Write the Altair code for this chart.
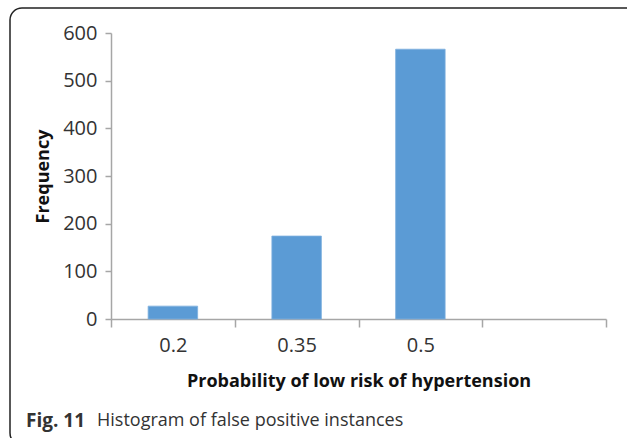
import altair as alt
import pandas as pd

categories = ["0.2", "0.35", "0.5", " "]
frequencies = [27, 174, 566, None]
caption_bold = ["Fig. 11"]
caption_rest = ["Histogram of false positive instances"]

FONT = "Open Sans"
TXT = "#333333"
AXC = "#A6A6A6"

df = pd.DataFrame({"prob": categories[:3], "freq": frequencies[:3]})

bars = alt.Chart(df).mark_bar(
    color="#5B9BD5", stroke="#7FB0DE", strokeWidth=0.8, width=alt.RelativeBandSize(0.4)
).encode(
    x=alt.X("prob:N", sort=categories,
            scale=alt.Scale(domain=categories, paddingInner=0, paddingOuter=0),
            axis=alt.Axis(title="Probability of low risk of hypertension", labelAngle=0,
                          tickBand="extent", tickSize=8, labelPadding=8,
                          titlePadding=17, domainColor=AXC, tickColor=AXC, domainWidth=1.5,
                          tickWidth=1.5)),
    y=alt.Y("freq:Q", scale=alt.Scale(domain=[0, 600]),
            axis=alt.Axis(title="Frequency", values=[0, 100, 200, 300, 400, 500, 600],
                          grid=False, tickSize=6, labelPadding=8, titlePadding=10,
                          domainColor=AXC, tickColor=AXC, domainWidth=1.5, tickWidth=1.5)),
)

cap_df = pd.DataFrame({"b": caption_bold, "r": caption_rest})
cap_bold = alt.Chart(cap_df).mark_text(
    align="left", baseline="middle", font=FONT, fontSize=19, fontWeight="bold", color=TXT
).encode(text="b:N", x=alt.value(-85), y=alt.value(388))
cap_rest = alt.Chart(cap_df).mark_text(
    align="left", baseline="middle", font=FONT, fontSize=18, color=TXT
).encode(text="r:N", x=alt.value(-14), y=alt.value(388))

frame = alt.Chart(cap_df).mark_rect(
    fill=None, stroke="#222222", strokeWidth=1.5, cornerRadius=12
).encode(x=alt.value(-101), x2=alt.value(530), y=alt.value(-25), y2=alt.value(412))

chart = alt.layer(frame, bars, cap_bold, cap_rest).properties(
    width=495, height=286,
    autosize=alt.AutoSizeParams(type="none"),
    padding={"left": 111, "top": 33, "right": 21, "bottom": 119},
).configure_view(stroke=None).configure_axis(
    labelFont=FONT, titleFont=FONT, labelFontSize=20, titleFontSize=18,
    labelColor=TXT, titleColor="#111111", titleFontWeight="bold"
)

chart.save("out.html", embed_options={"renderer": "svg", "actions": False})
